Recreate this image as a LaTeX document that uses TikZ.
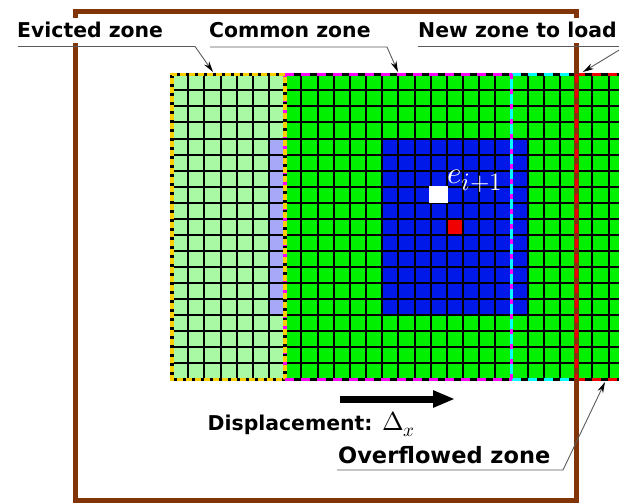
\documentclass[tikz,border=0pt]{standalone}
\usepackage{fontspec}
\usepackage{unicode-math}
\setmathfont{Latin Modern Math}
\newfontfamily\labfont{DejaVu Sans}
\DeclareMathSizes{31}{31}{25}{18}
\DeclareMathSizes{26}{26}{19}{14}
\usetikzlibrary{arrows.meta}
\definecolor{lgreen}{RGB}{168,248,164}
\definecolor{cgreen}{RGB}{0,240,0}
\definecolor{cblue}{RGB}{0,24,232}
\definecolor{lav}{RGB}{168,168,248}
\definecolor{cred}{RGB}{240,0,0}
\definecolor{framebrown}{RGB}{128,52,8}
\definecolor{cyel}{RGB}{255,208,0}
\definecolor{cmag}{RGB}{255,0,255}
\definecolor{ccyan}{RGB}{0,255,255}
\definecolor{leadgray}{RGB}{90,90,90}
\tikzset{
  lab/.style={font={\labfont\bfseries\fontsize{20.4}{24}\selectfont}, anchor=base west, inner xsep=0pt, inner ysep=4.5pt},
  labw/.style={lab, fill=white},
  leader/.style={draw=leadgray, line width=0.9pt, -{Stealth[length=11pt,width=6pt,color=black]}},
  zoneblack/.style={draw=black, line width=3.5pt},
  zonedash/.style={line width=3.5pt, dash pattern=on 9pt off 7pt},
  gridline/.style={draw=black, line width=2pt},
}
\begin{document}
\begin{tikzpicture}[x=1pt,y=-1pt]
\useasboundingbox (0,0) rectangle (619,503);
\clip (0,0) rectangle (619,503);
% grid
\begin{scope}[shift={(172,74.3)}, x=16.17pt, y=-16.05pt]
  \fill[lgreen] (0,0) rectangle (7,19);
  \fill[cgreen] (7,0) rectangle (29,19);
  \fill[cblue] (13,4) rectangle (22,15);
  \fill[lav] (6,4) rectangle (7,15);
  \fill[cred] (17,9) rectangle (18,10);
  \foreach \i in {1,...,28} \draw[gridline] (\i,0) -- (\i,19);
  \foreach \j in {1,...,18} \draw[gridline] (0,\j) -- (29,\j);
  \fill[white] (15.9,6.98) rectangle (17.08,8.04);
  % zone borders
  \draw[zoneblack] (0,0) rectangle (29,19);
  \draw[zoneblack] (7,0) -- (7,19) (21,0) -- (21,19) (25,0) -- (25,19);
  \draw[cmag, line width=3.5pt, dash pattern=on 4pt off 8pt] (7,0) -- (7,19);
  \draw[cyel, line width=3.5pt, dash pattern=on 6pt off 3pt] (7,0) -- (0,0) -- (0,19) -- (7,19) -- (7,0);
  \draw[cmag, zonedash] (7,0) -- (21,0) (7,19) -- (21,19);
  \draw[ccyan, zonedash] (21,0) -- (25,0) (21,19) -- (25,19);
  \draw[ccyan, line width=3.5pt] (21,0) -- (21,19);
  \draw[cmag, line width=3.5pt, dash pattern=on 5pt off 10pt] (21,0) -- (21,19);
  \draw[cred, zonedash] (25,0) -- (29,0) (25,19) -- (29,19);
  \coordinate (ovtop) at (25,0);
  \coordinate (ovbot) at (25,19);
\end{scope}
% frame
\draw[framebrown, line width=5pt] (75.5,12) rectangle (576,500);
\draw[cred, line width=2.5pt, dash pattern=on 9pt off 6pt] (ovtop) -- (ovbot);
% labels
\node[labw] (evl) at (17,38) {Evicted zone};
\node[labw] (cml) at (209,38) {Common zone};
\node[labw] (nzl) at (418,38) {New zone to load};
\node[lab] (dpl) at (207.5,430) {Displacement:};
\node[anchor=base west, inner sep=0pt, font=\fontsize{26}{30}\selectfont] (dlt) at (382,430.5) {$\Delta_x$};
\node[lab, font={\labfont\bfseries\fontsize{22.5}{26}\selectfont}] (ovl) at (338,463) {Overflowed zone};
\node[anchor=base west, inner sep=0pt, text=white, font=\fontsize{31}{36}\selectfont] (el) at (447,183.3) {$e_{i+1}$};
% leaders
\coordinate (evA) at (18,46.5);
\coordinate (evB) at (195,46.5);
\coordinate (evT) at (213,72);
\coordinate (cmA) at (210,47);
\coordinate (cmB) at (387,47);
\coordinate (cmT) at (398,72);
\coordinate (nzA) at (418,46.5);
\coordinate (nzB) at (625,46.5);
\coordinate (nzT) at (583,72);
\coordinate (ovA) at (337,470);
\coordinate (ovB) at (563,470);
\coordinate (ovT) at (605,382);
\draw[leader] (evA) -- (evB) -- (evT);
\draw[leader] (cmA) -- (cmB) -- (cmT);
\draw[leader] (nzA) -- (nzB) -- (nzT);
\draw[leader] (ovA) -- (ovB) -- (ovT);
% displacement arrow
\coordinate (dA) at (340,399);
\coordinate (dB) at (455,399);
\draw[line width=7pt, -{Triangle[length=22pt,width=16pt]}] (dA) -- (dB);
\end{tikzpicture}
\end{document}
